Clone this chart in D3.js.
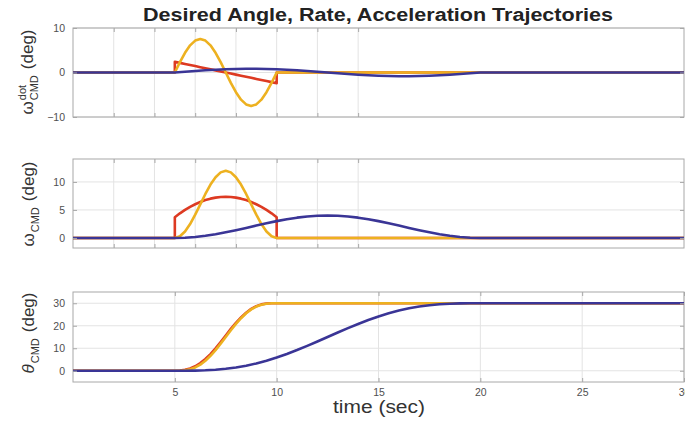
<!DOCTYPE html>
<html><head><meta charset="utf-8">
<script src="https://cdn.jsdelivr.net/npm/d3@7"></script>
<style>
html,body{margin:0;padding:0;background:#fff;}
svg{display:block;font-family:"Liberation Sans",Arial,Helvetica,sans-serif;}
</style></head>
<body>
<svg id="chart" width="685" height="427"></svg>
<script>
// ---------------- data ----------------
const tFast = [5, 5.25, 5.5, 5.75, 6, 6.25, 6.5, 6.75, 7, 7.25, 7.5, 7.75, 8, 8.25, 8.5, 8.75, 9, 9.25, 9.5, 9.75, 10];
const tSlow = [5, 5.5, 6, 6.5, 7, 7.5, 8, 8.5, 9, 9.5, 10, 10.5, 11, 11.5, 12, 12.5, 13, 13.5, 14, 14.5, 15, 15.5, 16, 16.5, 17, 17.5, 18, 18.5, 19, 19.5, 20];

const yellowAccel = [0, 2.33, 4.43, 6.10, 7.17, 7.54, 7.17, 6.10, 4.43, 2.33, 0, -2.33, -4.43, -6.10, -7.17, -7.54, -7.17, -6.10, -4.43, -2.33, 0];
const yellowRate  = [0, 0.29, 1.15, 2.47, 4.15, 6.00, 7.85, 9.53, 10.85, 11.71, 12.00, 11.71, 10.85, 9.53, 7.85, 6.00, 4.15, 2.47, 1.15, 0.29, 0];
const yellowAngle = [0, 0.03, 0.19, 0.64, 1.46, 2.73, 4.46, 6.64, 9.19, 12.03, 15.00, 17.97, 20.81, 23.36, 25.54, 27.27, 28.54, 29.36, 29.81, 29.97, 30];

const redAccel = [2.40, 2.16, 1.92, 1.68, 1.44, 1.20, 0.96, 0.72, 0.48, 0.24, 0, -0.24, -0.48, -0.72, -0.96, -1.20, -1.44, -1.68, -1.92, -2.16, -2.40];
const redRate  = [3.70, 4.40, 5.00, 5.55, 6.02, 6.42, 6.76, 7.02, 7.20, 7.31, 7.35, 7.31, 7.20, 7.02, 6.76, 6.42, 6.02, 5.55, 5.00, 4.40, 3.70];
const redAngle = [0, 0.1, 0.4, 1.0, 2.0, 3.4, 5.2, 7.4, 10.0, 12.8, 15.7, 18.6, 21.3, 23.7, 25.8, 27.5, 28.7, 29.5, 29.9, 30, 30];

const blueAccel = [0, 0.17, 0.34, 0.49, 0.62, 0.73, 0.80, 0.83, 0.83, 0.80, 0.73, 0.62, 0.49, 0.34, 0.17, 0, -0.17, -0.34, -0.49, -0.62, -0.73, -0.80, -0.83, -0.83, -0.80, -0.73, -0.62, -0.49, -0.34, -0.17, 0];
const blueRate  = [0, 0.04, 0.17, 0.38, 0.66, 1.00, 1.38, 1.79, 2.21, 2.62, 3.00, 3.34, 3.62, 3.83, 3.96, 4.00, 3.96, 3.83, 3.62, 3.34, 3.00, 2.62, 2.21, 1.79, 1.38, 1.00, 0.66, 0.38, 0.17, 0.04, 0];
const blueAngle = [0, 0.01, 0.06, 0.19, 0.45, 0.87, 1.46, 2.25, 3.25, 4.46, 5.87, 7.45, 9.19, 11.06, 13.01, 15.00, 16.99, 18.94, 20.81, 22.55, 24.13, 25.54, 26.75, 27.75, 28.54, 29.13, 29.55, 29.81, 29.94, 29.99, 30];

const xTickLabels = [5, 10, 15, 20, 25, 30];
const xGridTop = [2, 4, 6, 8, 10, 12, 14];
const yTicksAccel = [-10, 0, 10];
const yTicksRate = [0, 5, 10];
const yTicksAngle = [0, 10, 20, 30];

const title = "Desired Angle, Rate, Acceleration Trajectories";
const xTitle = "time (sec)";

// ---------------- layout ----------------
const svg = d3.select("#chart");
const x = d3.scaleLinear().domain([0, 30]).range([73, 684]);
const colors = {yellow: "#EDB120", red: "#DD3A22", blue: "#3A3596"};

const panels = [
  {top: 28, bottom: 117, domain: [-10, 10], yticks: yTicksAccel, xgrid: xGridTop, xlabels: false,
   series: [[redAccel, tFast, 0, 0, "red"], [yellowAccel, tFast, 0, 0, "yellow"], [blueAccel, tSlow, 0, 0, "blue"]],
   label: {base: "ω", sup: "dot", sub: "CMD", cx: 33, cy: 72}},
  {top: 159, bottom: 248, domain: [-1.8, 14.1], yticks: yTicksRate, xgrid: xGridTop, xlabels: false,
   series: [[redRate, tFast, 0, 0, "red"], [yellowRate, tFast, 0, 0, "yellow"], [blueRate, tSlow, 0, 0, "blue"]],
   label: {base: "ω", sup: null, sub: "CMD", cx: 34, cy: 204}},
  {top: 292, bottom: 382, domain: [-5, 35], yticks: yTicksAngle, xgrid: xTickLabels, xlabels: true,
   series: [[redAngle, tFast, 0, 30, "red"], [yellowAngle, tFast, 0, 30, "yellow"], [blueAngle, tSlow, 0, 30, "blue"]],
   label: {base: "θ", sup: null, sub: "CMD", cx: 34, cy: 333, italic: true}}
];

panels.forEach((p, i) => {
  const y = d3.scaleLinear().domain(p.domain).range([p.bottom, p.top]);
  const g = svg.append("g");
  const x0 = x.range()[0], x1 = x.range()[1];

  // grid
  g.selectAll(".vg").data(p.xgrid).enter().append("line")
    .attr("x1", d => x(d)).attr("x2", d => x(d)).attr("y1", p.top).attr("y2", p.bottom)
    .attr("stroke", "#e3e3e3").attr("stroke-width", 1);
  g.selectAll(".hg").data(p.yticks).enter().append("line")
    .attr("x1", x0).attr("x2", x1).attr("y1", d => y(d)).attr("y2", d => y(d))
    .attr("stroke", "#e3e3e3").attr("stroke-width", 1);

  // clip
  svg.append("clipPath").attr("id", "clip" + i).append("rect")
    .attr("x", x0).attr("y", p.top - 2).attr("width", x1 - x0).attr("height", p.bottom - p.top + 4);

  const line = d3.line().x(d => x(d[0])).y(d => y(d[1]));
  const lg = svg.append("g").attr("clip-path", `url(#clip${i})`);
  p.series.forEach(([vals, ts, pre, post, col]) => {
    const pts = [[0, pre], [ts[0], pre]];
    ts.forEach((t, k) => pts.push([t, vals[k]]));
    pts.push([ts[ts.length - 1], post], [30, post]);
    lg.append("path").datum(pts).attr("d", line)
      .attr("fill", "none").attr("stroke", colors[col]).attr("stroke-width", 2.6)
      .attr("stroke-linejoin", "round");
  });

  // box
  g.append("rect").attr("x", x0).attr("y", p.top).attr("width", x1 - x0).attr("height", p.bottom - p.top)
    .attr("fill", "none").attr("stroke", "#a8a8a8").attr("stroke-width", 1);

  // axes via d3
  const yAxis = d3.axisLeft(y).tickValues(p.yticks).tickSize(-4).tickPadding(8);
  const ya = svg.append("g").attr("transform", `translate(${x0},0)`).call(yAxis);
  const yAxisR = d3.axisRight(y).tickValues(p.yticks).tickSize(-4).tickFormat("");
  const yr = svg.append("g").attr("transform", `translate(${x1},0)`).call(yAxisR);
  const xAxis = d3.axisBottom(x).tickValues(p.xgrid).tickSize(-4).tickPadding(7)
    .tickFormat(p.xlabels ? d3.format("d") : "");
  const xa = svg.append("g").attr("transform", `translate(0,${p.bottom})`).call(xAxis);
  const xAxisT = d3.axisTop(x).tickValues(p.xgrid).tickSize(-4).tickFormat("");
  const xt = svg.append("g").attr("transform", `translate(0,${p.top})`).call(xAxisT);
  [ya, yr, xa, xt].forEach(a => {
    a.select(".domain").remove();
    a.selectAll(".tick line").attr("stroke", "#a8a8a8");
    a.selectAll(".tick text").attr("fill", "#505050").attr("font-size", 10.5)
      .attr("font-family", '"Liberation Sans",Arial,sans-serif');
  });

  // y label
  const L = p.label;
  const outer = svg.append("g").attr("transform", `translate(${L.cx},${L.cy}) rotate(-90)`);
  const inner = outer.append("g").attr("fill", "#333");
  const b = inner.append("text").attr("x", 0).attr("y", 0).attr("font-size", 17).text(L.base);
  if (L.italic) b.attr("font-style", "italic");
  const wb = b.node().getComputedTextLength() + 1;
  let wmax = 0;
  if (L.sup) {
    const s = inner.append("text").attr("x", wb).attr("y", -7).attr("font-size", 11).text(L.sup);
    wmax = Math.max(wmax, s.node().getComputedTextLength());
  }
  const sb = inner.append("text").attr("x", wb).attr("y", 5).attr("font-size", 11).text(L.sub);
  wmax = Math.max(wmax, sb.node().getComputedTextLength());
  const dx = wb + wmax + 6;
  const dg = inner.append("text").attr("x", dx).attr("y", 0).attr("font-size", 17).text("(deg)");
  const total = dx + dg.node().getComputedTextLength();
  inner.attr("transform", `translate(${-total / 2},0)`);
});

// title
svg.append("text").attr("x", 378).attr("y", 21).attr("text-anchor", "middle")
  .attr("font-size", 18).attr("font-weight", "bold").attr("fill", "#222")
  .attr("textLength", 470).attr("lengthAdjust", "spacingAndGlyphs").text(title);

// x label
svg.append("text").attr("x", 379).attr("y", 413).attr("text-anchor", "middle")
  .attr("font-size", 18).attr("fill", "#333")
  .attr("textLength", 92).attr("lengthAdjust", "spacingAndGlyphs").text(xTitle);
</script>
</body></html>
